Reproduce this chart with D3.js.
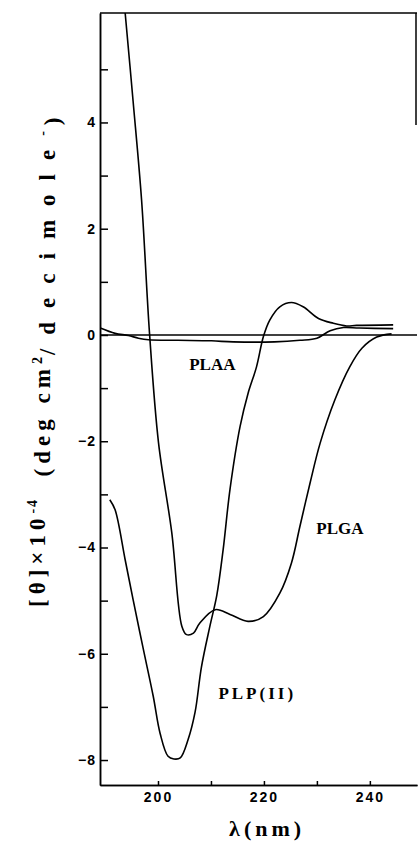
<!DOCTYPE html>
<html>
<head>
<meta charset="utf-8">
<script src="https://cdn.jsdelivr.net/npm/d3@7"></script>
<style>
  body { margin: 0; background: #fff; }
  .tick text { font-family: "Liberation Sans", Arial, sans-serif; font-weight: bold; font-size: 14px; fill: #000; }
  .tick line, .domain { stroke: #000; stroke-width: 1.5px; }
</style>
</head>
<body>
<div id="chart"></div>
<script>
// wavelength (nm) and ellipticity values
var plgaNm  = [193.8, 195.3, 196.9, 198.4, 200.1, 202.6, 204.5, 205.4, 206.7, 207.9, 210.8, 213.6, 217.0, 219.9, 223.0, 225.2, 226.8, 228.7, 230.6, 233.4, 236.2, 238.5, 241.3, 244.1];
var plgaVal = [6.06, 4.4, 2.54, 0.03, -2.03, -3.72, -5.48, -5.64, -5.61, -5.42, -5.17, -5.26, -5.39, -5.30, -4.86, -4.29, -3.60, -2.79, -2.04, -1.22, -0.60, -0.25, -0.04, 0.02];

var plpNm  = [190.9, 191.9, 193.8, 195.3, 197.2, 199.1, 200.4, 201.9, 203.0, 204.2, 205.7, 207.0, 208.2, 209.8, 211.1, 212.3, 213.6, 215.5, 217.0, 218.6, 219.9, 221.1, 223.0, 225.2, 227.4, 230.3, 233.1, 235.6, 237.5, 244.4];
var plpVal = [-3.10, -3.29, -4.23, -4.98, -5.90, -6.80, -7.50, -7.93, -7.98, -7.96, -7.61, -7.10, -6.25, -5.48, -4.90, -4.04, -2.90, -1.72, -1.10, -0.60, -0.03, 0.28, 0.53, 0.61, 0.53, 0.31, 0.22, 0.17, 0.18, 0.19];

var plaaNm  = [189.1, 191.9, 194.4, 196.3, 198.2, 203.8, 210.1, 214.2, 222.0, 226.8, 230.0, 232.5, 235.0, 238.0, 244.4];
var plaaVal = [0.13, 0.03, -0.01, -0.06, -0.09, -0.10, -0.11, -0.13, -0.13, -0.10, -0.06, 0.08, 0.14, 0.13, 0.12];

var xMajor = [200, 220, 240];
var xMinor = [210, 230];
var yMajor = [-8, -6, -4, -2, 0, 2, 4];
var yMinor = [-7, -5, -3, -1, 1, 3, 5];

// curve labels: text, wavelength, value at baseline
var labelText = ["PLAA", "PLGA", "PLP(II)"];
var labelNm   = [205.9, 229.9, 211.4];
var labelVal  = [-0.66, -3.74, -6.86];

// set the margins of the graph
var margin = {top: 13, right: 1, bottom: 56, left: 100},
width = 418 - margin.left - margin.right,
height = 841 - margin.top - margin.bottom;

var svg = d3.select("#chart")
            .append("svg")
            .attr("width", 418)
            .attr("height", 841)
            .append("g")
            .attr("transform", "translate(" + margin.left + "," + margin.top + ")");

var x = d3.scaleLinear().domain([189.05, 248.9]).range([0, width]);
var y = d3.scaleLinear().domain([-8.47, 6.06]).range([height, 0]);

// minor ticks first, then the labelled ones
svg.append("g")
   .attr("transform", "translate(0," + height + ")")
   .call(d3.axisBottom(x).tickValues(xMinor).tickSize(-4).tickSizeOuter(0).tickFormat(""));
svg.append("g")
   .attr("transform", "translate(0," + height + ")")
   .call(d3.axisBottom(x).tickValues(xMajor).tickSize(-4).tickSizeOuter(0).tickPadding(7))
   .selectAll("text").style("letter-spacing", "2px");

svg.append("g")
   .call(d3.axisLeft(y).tickValues(yMinor).tickSize(-8).tickSizeOuter(0).tickFormat(""));
svg.append("g")
   .call(d3.axisLeft(y).tickValues(yMajor).tickSize(-8).tickSizeOuter(0).tickPadding(4))
   .selectAll("text").style("letter-spacing", "1px");

// top edge and the bit of right edge that survived the scan
svg.append("line")
   .attr("x1", 0).attr("x2", x(248.9)).attr("y1", y(6.06)).attr("y2", y(6.06))
   .attr("stroke", "#000").attr("stroke-width", 1.5);
svg.append("line")
   .attr("x1", x(248.9) - 1).attr("x2", x(248.9) - 1).attr("y1", y(6.06)).attr("y2", y(3.95))
   .attr("stroke", "#000").attr("stroke-width", 1.5);

// zero line
svg.append("line")
   .attr("x1", 0).attr("x2", width).attr("y1", y(0)).attr("y2", y(0))
   .attr("stroke", "#000").attr("stroke-width", 1.5);

var line = d3.line()
             .x(function(d) { return x(d[0]); })
             .y(function(d) { return y(d[1]); })
             .curve(d3.curveCatmullRom.alpha(0.5));

var series = [
  d3.zip(plgaNm, plgaVal),
  d3.zip(plpNm, plpVal),
  d3.zip(plaaNm, plaaVal)
];

svg.selectAll(".curve")
   .data(series)
   .enter()
   .append("path")
   .attr("class", "curve")
   .attr("d", line)
   .attr("fill", "none")
   .attr("stroke", "#000")
   .attr("stroke-width", 1.6);

svg.selectAll(".lbl")
   .data(labelText)
   .enter()
   .append("text")
   .attr("class", "lbl")
   .attr("x", function(d, i) { return x(labelNm[i]); })
   .attr("y", function(d, i) { return y(labelVal[i]); })
   .attr("font-family", "'Liberation Serif', 'Times New Roman', serif")
   .attr("font-weight", "bold")
   .attr("font-size", "17px")
   .style("letter-spacing", function(d) { return d == "PLP(II)" ? "3px" : "0px"; })
   .text(function(d) { return d; });

// x axis title
svg.append("text")
   .attr("x", x(220.6))
   .attr("y", height + 51)
   .attr("text-anchor", "middle")
   .attr("font-family", "'Liberation Serif', 'Times New Roman', serif")
   .attr("font-weight", "bold")
   .attr("font-size", "22px")
   .style("letter-spacing", "4px")
   .text("λ(nm)");

// y axis title, rotated, reads bottom to top; the typed original is loosely spaced
var yt = svg.append("text")
            .attr("transform", "translate(" + (37 - margin.left) + "," + (607 - margin.top) + ") rotate(-90)")
            .attr("text-anchor", "start")
            .attr("dy", "0.35em")
            .attr("font-family", "'Liberation Serif', 'Times New Roman', serif")
            .attr("font-weight", "bold")
            .attr("font-size", "23px");
yt.append("tspan").style("letter-spacing", "5px").text("[θ]×10");
yt.append("tspan").attr("font-size", "14px").attr("dy", "-0.55em").style("letter-spacing", "2px").text("-4");
yt.append("tspan").attr("dy", "0.55em").style("letter-spacing", "5px").text("\u00a0\u00a0(deg cm");
yt.append("tspan").attr("font-size", "14px").attr("dy", "-0.55em").style("letter-spacing", "2px").text("2");
yt.append("tspan").attr("dy", "0.55em").style("letter-spacing", "14px").text("/decimole");
yt.append("tspan").attr("font-size", "14px").attr("dy", "-0.55em").style("letter-spacing", "6px").text("-");
yt.append("tspan").attr("dy", "0.55em").text(")");
</script>
</body>
</html>
